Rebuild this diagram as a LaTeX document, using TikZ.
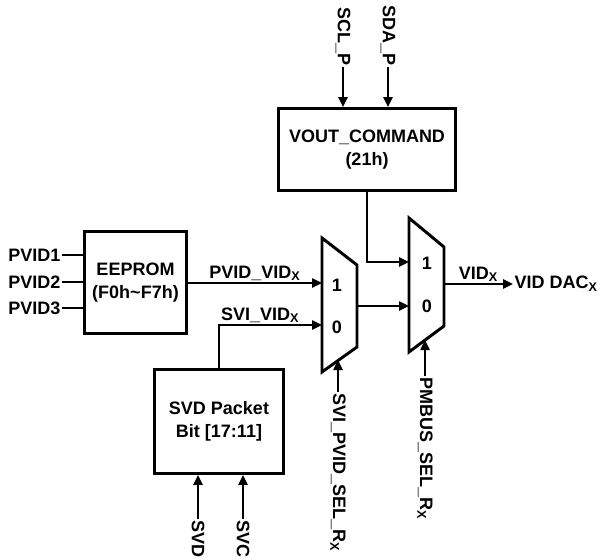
\documentclass[tikz,border=0pt]{standalone}
\usepackage{fontspec}
\setmainfont{Liberation Sans}
\usetikzlibrary{positioning,arrows.meta}

\begin{document}
\begin{tikzpicture}[
    x=0.75pt, y=-0.75pt,
    font=\fontsize{13.5}{17.5}\selectfont\bfseries,
    box/.style={draw, line width=2.2pt, align=center, inner sep=0pt},
    lbl/.style={inner sep=1pt},
    vlbl/.style={inner sep=1pt, rotate=-90},
    arrow/.style={-{Triangle[length=7.5pt, width=7pt]}, line width=1.1pt},
    wire/.style={line width=1.1pt},
    mux/.style={line width=2.2pt, line join=miter}
  ]
    \useasboundingbox (0,0) rectangle (600,560);
    \node[box, minimum width=76.5pt, minimum height=76.5pt] (eeprom) at (135.5,282.5) {EEPROM\\(F0h\textasciitilde F7h)};
    \node[box, minimum width=96.75pt, minimum height=78pt] (svd) at (219,421.5) {SVD Packet\\Bit [17:11]};
    \node[box, minimum width=132.75pt, minimum height=61.5pt] (vout) at (367,149.5) {VOUT\_COMMAND\\(21h)};
    \node[lbl, anchor=east] (pvid1) at (62,255) {PVID1};
    \node[lbl, anchor=east] (pvid2) at (62,282) {PVID2};
    \node[lbl, anchor=east] (pvid3) at (62,308) {PVID3};
    \node[vlbl, anchor=west] (svdin) at (198,519) {SVD};
    \node[vlbl, anchor=west] (svcin) at (243,519) {SVC};
    \node[vlbl, anchor=east] (scl) at (343,67) {SCL\_P};
    \node[vlbl, anchor=east] (sda) at (388,67) {SDA\_P};
    \node[vlbl, anchor=west] (selone) at (338,392) {SVI\_PVID\_SEL\_R\textsubscript{X}};
    \node[vlbl, anchor=west] (seltwo) at (425,376) {PMBUS\_SEL\_R\textsubscript{X}};
    \node[lbl, anchor=west] (dac) at (513,284) {VID DAC\textsubscript{X}};
    \draw[mux] (322,238) -- (357,265) -- (357,347) -- (322,372) -- cycle;
    \draw[mux] (409,218) -- (444,247) -- (444,326) -- (409,352) -- cycle;
    \coordinate (m1in1) at (322,283);
    \coordinate (m1in0) at (322,325);
    \coordinate (m1out) at (357,306);
    \coordinate (m1sel) at (338,360);
    \coordinate (m2in1) at (409,262);
    \coordinate (m2in0) at (409,306);
    \coordinate (m2out) at (444,284);
    \coordinate (m2sel) at (425,340);
    \node (m1one) at (337,285) {1};
    \node (m1zero) at (337,327) {0};
    \node (m2one) at (427,263) {1};
    \node (m2zero) at (427,306) {0};
    \draw[wire] (pvid1.east) -- (eeprom.west |- pvid1.east);
    \draw[wire] (pvid2.east) -- (eeprom.west |- pvid2.east);
    \draw[wire] (pvid3.east) -- (eeprom.west |- pvid3.east);
    \draw[arrow] (eeprom.east |- m1in1) -- node[lbl, above] {PVID\_VID\textsubscript{X}} (m1in1);
    \draw[arrow] (svd.north) |- node[lbl, above right] {SVI\_VID\textsubscript{X}} (m1in0);
    \draw[arrow] (svdin.west) -- (svd.south -| svdin.west);
    \draw[arrow] (svcin.west) -- (svd.south -| svcin.west);
    \draw[arrow] (scl.east) -- (vout.north -| scl.east);
    \draw[arrow] (sda.east) -- (vout.north -| sda.east);
    \draw[arrow] (vout.south) |- (m2in1);
    \draw[arrow] (m1out) -- (m2in0);
    \draw[arrow] (selone.west) -- (m1sel);
    \draw[arrow] (seltwo.west) -- (m2sel);
    \draw[arrow] (m2out) -- node[lbl, above] {VID\textsubscript{X}} (dac.west);
  \end{tikzpicture}
\end{document}
